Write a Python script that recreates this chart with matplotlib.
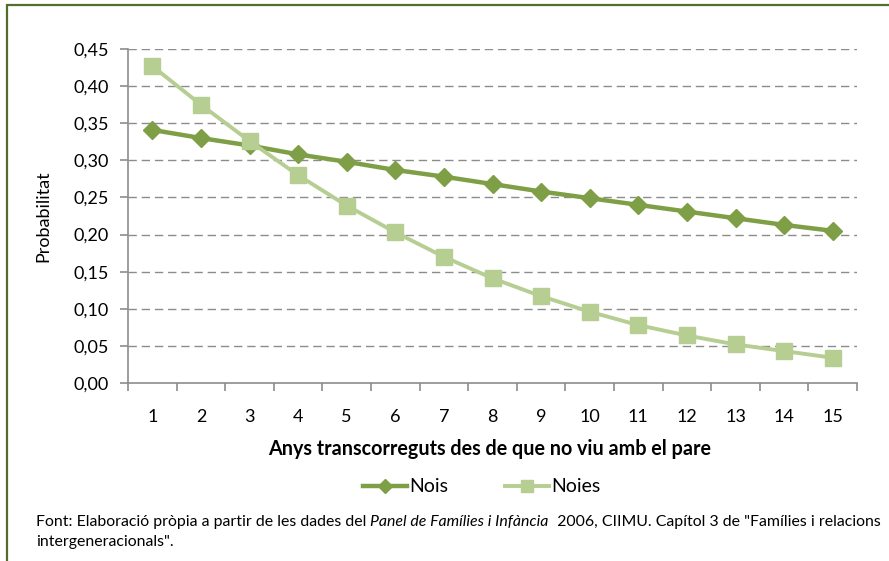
import numpy as np
import matplotlib.pyplot as plt
from matplotlib.patches import Rectangle
from matplotlib.ticker import FixedLocator

plt.rcParams['font.family'] = ['Lato', 'DejaVu Sans']

# Dades
anys = list(range(1, 16))
nois = [0.341, 0.330, 0.320, 0.308, 0.298, 0.287, 0.278, 0.268, 0.258,
        0.249, 0.240, 0.231, 0.222, 0.213, 0.205]
noies = [0.427, 0.375, 0.326, 0.280, 0.239, 0.203, 0.170, 0.141, 0.117,
         0.096, 0.078, 0.064, 0.052, 0.043, 0.034]
yticks = [0.0, 0.05, 0.10, 0.15, 0.20, 0.25, 0.30, 0.35, 0.40, 0.45]

c_nois = '#7E9F45'
c_noies = '#B6CE92'
gris = '#8C8C8C'

W, H = 889, 561
fig = plt.figure(figsize=(W / 100, H / 100), dpi=100)
ax = fig.add_axes([128 / W, 1 - 383 / H, (857 - 128) / W, (383 - 49) / H])

# marc exterior
fig.patches.append(Rectangle((7 / W, -0.1), 1.2, 1 - 5 / H + 0.1, transform=fig.transFigure,
                             fill=False, edgecolor='#536D2C', linewidth=1.6))

for y in yticks[1:]:
    ax.axhline(y, color=gris, lw=1.0, ls=(0, (6, 3.5)), zorder=1)

ax.plot(anys, nois, color=c_nois, lw=3.2, marker='D', ms=9.5, mec=c_nois, label='Nois', zorder=3)
ax.plot(anys, noies, color=c_noies, lw=2.8, marker='s', ms=11, mec=c_noies, label='Noies', zorder=4)

ax.set_xlim(0.5, 15.5)
ax.set_ylim(0, 0.45)
ax.set_yticks(yticks)
ax.set_yticklabels([f'{v:.2f}'.replace('.', ',') for v in yticks])
ax.set_xticks(anys)
ax.xaxis.set_minor_locator(FixedLocator(np.arange(0.5, 16, 1)))
ax.tick_params(axis='x', which='major', length=0, pad=19, labelsize=13)
ax.tick_params(axis='x', which='minor', length=6, color=gris, width=1.2)
ax.tick_params(axis='y', length=6, color=gris, width=1.2, pad=8, labelsize=13)

for s in ['top', 'right']:
    ax.spines[s].set_visible(False)
for s in ['left', 'bottom']:
    ax.spines[s].set_color(gris)
    ax.spines[s].set_linewidth(1.2)

ax.set_ylabel('Probabilitat', fontsize=13)
ax.yaxis.set_label_coords(-0.105, 0.5)

fig.text(490 / W, 1 - 449 / H, 'Anys transcorreguts des de que no viu amb el pare',
         ha='center', va='center', fontsize=14.2, fontweight='bold')

fig.legend(loc='center', bbox_to_anchor=(482 / W, 1 - 487 / H), ncol=2, frameon=False,
           fontsize=14, handlelength=2.25, columnspacing=2.9, handletextpad=0.15,
           markerscale=0.75)

# nota al peu, amb un tros en cursiva
parts = [('Font: Elaboració pròpia a partir de les dades del ', 'normal'),
         ('Panel de Famílies i Infància', 'italic'),
         ('  2006, CIIMU. Capítol 3 de "Famílies i relacions', 'normal')]
r = fig.canvas.get_renderer()
x = 36
for txt, st in parts:
    t = fig.text(x / W, 1 - 526 / H, txt, fontsize=11.4, style=st, va='baseline')
    x = t.get_window_extent(r).x1
fig.text(36 / W, 1 - 546 / H, 'intergeneracionals".', fontsize=11.4, va='baseline')

fig.savefig('out.png', dpi=100)
